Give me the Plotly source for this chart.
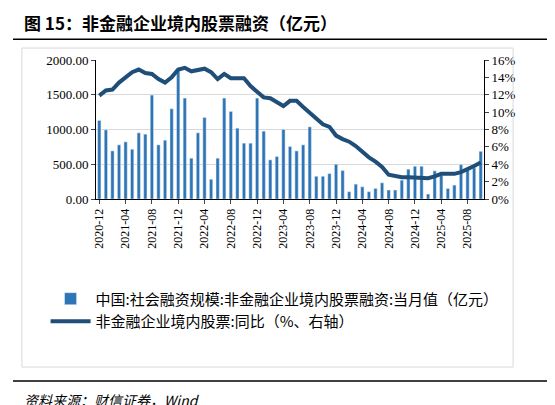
import pandas as pd
import plotly.graph_objects as go

months = pd.date_range("2020-12-01", "2025-10-01", freq="MS").strftime("%Y-%m").tolist()

financing = [1130, 995, 692, 779, 822, 716, 952, 933, 1495, 779, 846, 1298,
             1860, 1452, 587, 952, 1173, 284, 587, 1452, 1260, 1019, 803, 803,
             1452, 976, 563, 611, 1000, 755, 692, 779, 1038, 327, 327, 365,
             500, 410, 105, 214, 176, 105, 152, 233, 129, 129, 271, 429,
             471, 471, 71, 405, 343, 152, 200, 495, 414, 448, 686]

yoy = [11.9, 12.5, 12.6, 13.4, 14.0, 14.6, 14.9, 14.5, 14.4, 13.8, 13.4, 14.0,
       14.9, 15.1, 14.7, 14.9, 15.0, 14.6, 13.8, 14.4, 13.9, 13.9, 13.9, 13.0,
       12.3, 11.7, 11.6, 11.2, 10.7, 11.3, 11.3, 10.6, 9.9, 9.2, 8.6, 8.3,
       7.3, 6.9, 6.6, 6.1, 5.4, 4.8, 4.3, 3.7, 2.8, 2.6, 2.5, 2.5,
       2.5, 2.5, 2.4, 2.6, 2.9, 2.9, 2.9, 3.1, 3.4, 3.8, 4.2]

tick_labels = months[::4]

serif = "Liberation Serif"
cjk = "Noto Sans CJK SC"

fig = go.Figure()
fig.add_trace(go.Bar(x=months, y=financing, marker_color="#2e75b6", width=0.5,
                     name="中国:社会融资规模:非金融企业境内股票融资:当月值（亿元）"))
fig.add_trace(go.Scatter(x=months, y=yoy, yaxis="y2", mode="lines",
                         line=dict(color="#1f4e79", width=4),
                         name="非金融企业境内股票:同比（%、右轴）"))

fig.update_layout(
    width=555, height=405, margin=dict(l=88, r=79, t=52, b=214),
    paper_bgcolor="white", plot_bgcolor="white",
    font=dict(family=serif, size=13, color="black"),
    xaxis=dict(type="category", tickvals=tick_labels, ticktext=tick_labels,
               tickangle=-90, ticks="outside", ticklen=4, showline=True,
               linecolor="black", tickfont=dict(size=12), range=[-0.5, 58.5]),
    yaxis=dict(range=[0, 2000], dtick=500, tickformat=".2f", showgrid=True,
               gridcolor="#d9d9d9", showline=True, linecolor="black",
               ticks="outside", ticklen=4),
    yaxis2=dict(range=[0, 16], dtick=2, ticksuffix="%", overlaying="y", side="right",
                showline=True, linecolor="black", ticks="outside", ticklen=4,
                showgrid=False),
    legend=dict(orientation="v", x=-0.13, y=-0.6, xanchor="left", yanchor="top",
                font=dict(family=cjk, size=15), tracegroupgap=18, itemwidth=40),
    showlegend=True,
)

fig.add_annotation(text="<b>图 15：非金融企业境内股票融资（亿元）</b>", xref="paper", yref="paper",
                   x=-0.19, y=1.27, xanchor="left", yanchor="middle", showarrow=False,
                   font=dict(family=cjk, size=17, color="black"))
fig.add_annotation(text="<i>资料来源：财信证券，Wind</i>", xref="paper", yref="paper",
                   x=-0.19, y=-1.446, xanchor="left", yanchor="middle", showarrow=False,
                   font=dict(family=cjk, size=14, color="black"))
fig.add_shape(type="line", xref="paper", yref="paper", x0=-0.214, x1=1.19, y0=1.15, y1=1.15,
              line=dict(color="black", width=1.5))
fig.add_shape(type="line", xref="paper", yref="paper", x0=-0.214, x1=1.19, y0=-1.309, y1=-1.309,
              line=dict(color="black", width=1.5))
fig.add_shape(type="rect", xref="paper", yref="paper", x0=-0.191, x1=1.075, y0=-1.209, y1=1.086,
              line=dict(color="#d9d9d9", width=1))

fig.write_html("out.html")
